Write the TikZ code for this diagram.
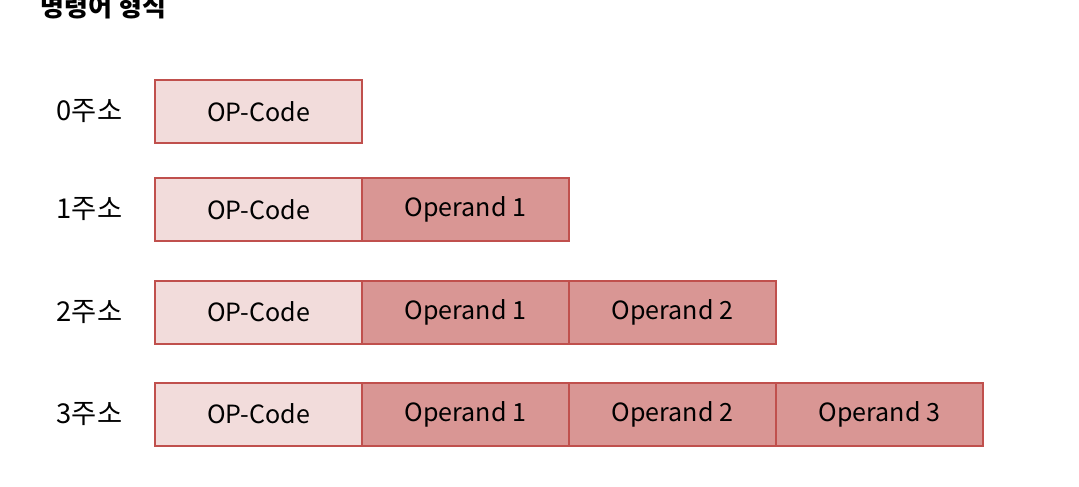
\documentclass[tikz,border=0pt]{standalone}
\usepackage{fontspec}
\setmainfont{Noto Sans CJK KR}
\usepackage{tikz}
\usetikzlibrary{positioning}
\definecolor{boxline}{HTML}{C0504D}
\definecolor{oplight}{HTML}{F2DCDB}
\definecolor{opdark}{HTML}{D99694}
\tikzstyle{field} = [rectangle, minimum width=155.25pt, minimum height=47.25pt, text centered, draw=boxline, line width=1.5pt, outer sep=0pt, font=\fontsize{18.8}{22}\selectfont]
\tikzstyle{opcode} = [field, fill=oplight]
\tikzstyle{operand} = [field, fill=opdark]
\tikzstyle{addr} = [anchor=west, font=\fontsize{20.5}{24}\selectfont]

\begin{document}
\begin{tikzpicture}[x=0.75pt, y=-0.75pt]
\useasboundingbox (0,0) rectangle (1079,486);

\node (title) [anchor=base west, font=\bfseries\fontsize{19.5}{23}\selectfont] at (36,16) {명령어 형식};

% 0 address
\node (lab0) [addr] at (52,111.5) {0주소};
\node (op0) [opcode] at (258.5,111.5) {OP-Code};

% 1 address
\node (lab1) [addr] at (52,209.5) {1주소};
\node (op1) [opcode] at (258.5,209.5) {OP-Code};
\node (a1x) [operand, right=0pt of op1] {Operand 1};

% 2 address
\node (lab2) [addr] at (52,312) {2주소};
\node (op2) [opcode] at (258.5,312) {OP-Code};
\node (a2x) [operand, right=0pt of op2] {Operand 1};
\node (a2y) [operand, right=0pt of a2x] {Operand 2};

% 3 address
\node (lab3) [addr] at (52,414) {3주소};
\node (op3) [opcode] at (258.5,414) {OP-Code};
\node (a3x) [operand, right=0pt of op3] {Operand 1};
\node (a3y) [operand, right=0pt of a3x] {Operand 2};
\node (a3z) [operand, right=0pt of a3y] {Operand 3};
\end{tikzpicture}
\end{document}
